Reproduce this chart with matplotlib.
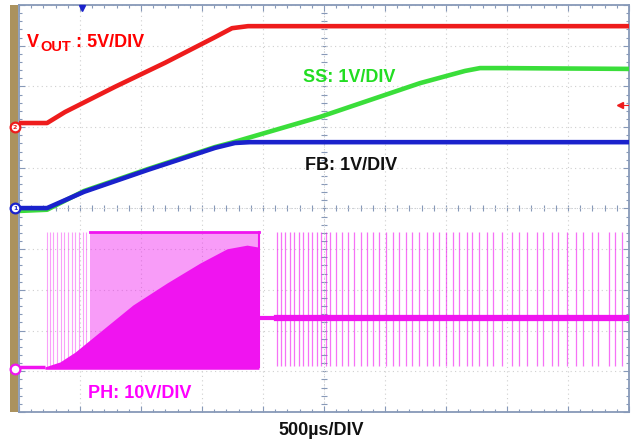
import matplotlib
matplotlib.use('Agg')
import matplotlib.pyplot as plt
import numpy as np
from matplotlib.patches import Rectangle

# ---- data: time in ms (500 us/DIV, 10 DIV), level in screen divisions (0 = bottom, 10 = top)
vout_t = [0.0, 0.23, 0.377, 0.787, 1.197, 1.607, 1.746, 1.877, 5.0]
vout_y = [7.10, 7.10, 7.37, 7.99, 8.58, 9.21, 9.43, 9.48, 9.48]

fb_t = [0.0, 0.23, 0.533, 1.057, 1.607, 1.77, 1.893, 5.0]
fb_y = [5.01, 5.01, 5.41, 5.95, 6.49, 6.61, 6.63, 6.63]

ss_t = [0.0, 0.23, 0.533, 1.057, 1.607, 1.77, 2.467, 3.287, 3.656, 3.779, 3.943, 5.0]
ss_y = [4.94, 4.97, 5.43, 5.97, 6.51, 6.64, 7.25, 8.08, 8.38, 8.45, 8.45, 8.43]

# PH (switch node)
ph_low = 1.11          # level before start-up
ph_idle = 2.31         # level after soft-start (pulse-skipping)
ph_top = 4.42          # pulse high level
ph_bottom = 1.10       # pulse low level
ph_env_t = [0.213, 0.336, 0.459, 0.582, 0.934, 1.213, 1.484, 1.705, 1.869, 1.967]
ph_env_y = [1.11, 1.23, 1.47, 1.77, 2.63, 3.17, 3.66, 4.01, 4.10, 4.05]
ph_burst_start = 0.582
ph_burst_end = 1.967
ph_sparse_t = [0.23, 0.254, 0.279, 0.311, 0.344, 0.369, 0.402, 0.434, 0.459, 0.492, 0.525, 0.549]
ph_spike_t = [2.115, 2.148, 2.180, 2.221, 2.254, 2.295, 2.328, 2.369, 2.402, 2.443, 2.475, 2.516,
              2.549, 2.598, 2.648, 2.697, 2.746, 2.803, 2.852, 2.902, 2.951, 3.008, 3.066, 3.115,
              3.172, 3.221, 3.279, 3.344, 3.393, 3.443, 3.500, 3.557, 3.607, 3.672, 3.713, 3.770,
              3.836, 3.885, 3.959, 4.041, 4.098, 4.164, 4.246, 4.295, 4.369, 4.418, 4.492, 4.566,
              4.623, 4.697, 4.746, 4.836, 4.885, 4.943]

RED = '#ee1c1c'
GREEN = '#3ade3a'
BLUE = '#1a22cc'
MAG = '#f014f0'
FRAME = '#8799b8'

W, H = 637, 440
fig = plt.figure(figsize=(W / 100, H / 100), dpi=100)
fig.patch.set_facecolor('white')
ax = fig.add_axes([19 / W, 1 - 412 / H, 610 / W, 407 / H])
ax.set_xlim(0, 5)
ax.set_ylim(0, 10)
ax.set_xticks(np.arange(0, 5.01, 0.5))
ax.set_yticks(np.arange(0, 10.01, 1))
ax.set_xticks(np.arange(0, 5.01, 0.1), minor=True)
ax.set_yticks(np.arange(0, 10.01, 0.2), minor=True)
ax.tick_params(which='both', direction='in', top=True, right=True,
               labelbottom=False, labelleft=False, color=FRAME, width=0.8)
ax.tick_params(which='major', length=4)
ax.tick_params(which='minor', length=2.5)
for s in ax.spines.values():
    s.set_color(FRAME)
    s.set_linewidth(1.3)
ax.grid(which='major', color='#cfcfcf', linestyle=(0, (1, 3)), linewidth=0.8, zorder=0)

# centre crosshair with fine ticks
ax.axvline(2.5, color='#b8c0cc', lw=0.6, ls=(0, (1, 2)), zorder=0)
ax.axhline(5.0, color='#b8c0cc', lw=0.6, ls=(0, (1, 2)), zorder=0)
yy = np.arange(0.2, 10, 0.2)
ax.plot(np.full(yy.size, 2.5), yy, ls='none', marker='_', ms=4, mew=0.8, color=FRAME, zorder=1)
xx = np.arange(0.1, 5, 0.1)
ax.plot(xx, np.full(xx.size, 5.0), ls='none', marker='|', ms=4, mew=0.8, color=FRAME, zorder=1)

# tan strip left of the screen (behind the axes so the channel markers show)
fig.add_artist(Rectangle((10 / W, 1 - 412 / H), 8 / W, 407 / H, transform=fig.transFigure,
                         facecolor='#ab925e', edgecolor='none', zorder=-1))

# ---- PH trace
ax.plot([0, ph_env_t[0]], [ph_low, ph_low], color=MAG, lw=2.5, zorder=3, solid_capstyle='butt')
ax.vlines(ph_sparse_t, ph_bottom, ph_top, color=MAG, alpha=0.4, lw=0.8, zorder=3)
# burst: light band up to the top level and solid fill up to the envelope
ax.fill_between([ph_burst_start, ph_burst_end], ph_bottom - 0.05, ph_top,
                color=MAG, alpha=0.42, lw=0, zorder=3)
ax.fill_between(ph_env_t, ph_bottom - 0.05, ph_env_y, color=MAG, lw=0, zorder=3)
ax.plot([ph_burst_start, ph_burst_end], [ph_top, ph_top], color=MAG, lw=2, zorder=3)
ax.plot([ph_burst_end, ph_burst_end], [ph_bottom, ph_top], color=MAG, lw=1.5, zorder=3)
# after soft-start: idle level with pulse-skipping spikes
ax.vlines(ph_spike_t, ph_bottom + 0.03, ph_top, color=MAG, alpha=0.6, lw=0.9, zorder=3)
ax.plot([ph_burst_end, ph_spike_t[0]], [ph_idle, ph_idle], color=MAG, lw=3, zorder=4)
ax.plot([ph_spike_t[0], 5.0], [ph_idle, ph_idle], color=MAG, lw=4.5, zorder=4)

# ---- SS, FB, VOUT
ax.plot(ss_t, ss_y, color=GREEN, lw=3.3, zorder=5, solid_joinstyle='round')
ax.plot(fb_t, fb_y, color=BLUE, lw=3.3, zorder=6, solid_joinstyle='round')
ax.plot(vout_t, vout_y, color=RED, lw=3.3, zorder=7, solid_joinstyle='round')

# channel ground markers
mx = -4 / 122
for lvl, col, lab in [(7.0, RED, '2'), (5.01, BLUE, '1'), (1.06, MAG, '')]:
    ax.plot(mx, lvl, marker='o', ms=7, mfc='white', mec=col, mew=1.6, clip_on=False, zorder=10)
    if lab:
        ax.text(mx, lvl, lab, color=col, fontsize=4.5, ha='center', va='center',
                fontweight='bold', clip_on=False, zorder=11)
# trigger position marker and trigger level arrow
ax.plot(0.516, 9.93, marker='v', ms=5, color=BLUE, clip_on=False, zorder=10)
ax.plot([4.926, 4.99], [7.54, 7.54], color=RED, lw=0.8, zorder=10)
ax.plot(4.926, 7.54, marker='<', ms=4, color=RED, zorder=10)

# ---- labels
F = 'Liberation Sans'
def ftxt(px, py, s, size, color):
    fig.text(px / W, 1 - py / H, s, fontsize=size, color=color, fontweight='bold',
             family=F, ha='left', va='baseline')

ftxt(27, 47, 'V', 13, '#ff0000')
ftxt(40, 51, 'OUT', 10.5, '#ff0000')
ftxt(76, 47, ': 5V/DIV', 13, '#ff0000')
ftxt(303, 82, 'SS: 1V/DIV', 13, '#22dd22')
ftxt(305, 170, 'FB: 1V/DIV', 13, '#111111')
ftxt(88, 398, 'PH: 10V/DIV', 13, '#ff00ff')
ftxt(278, 435, '500\u00b5s/DIV', 13, '#111111')

fig.savefig('out.png', dpi=100, facecolor='white')
